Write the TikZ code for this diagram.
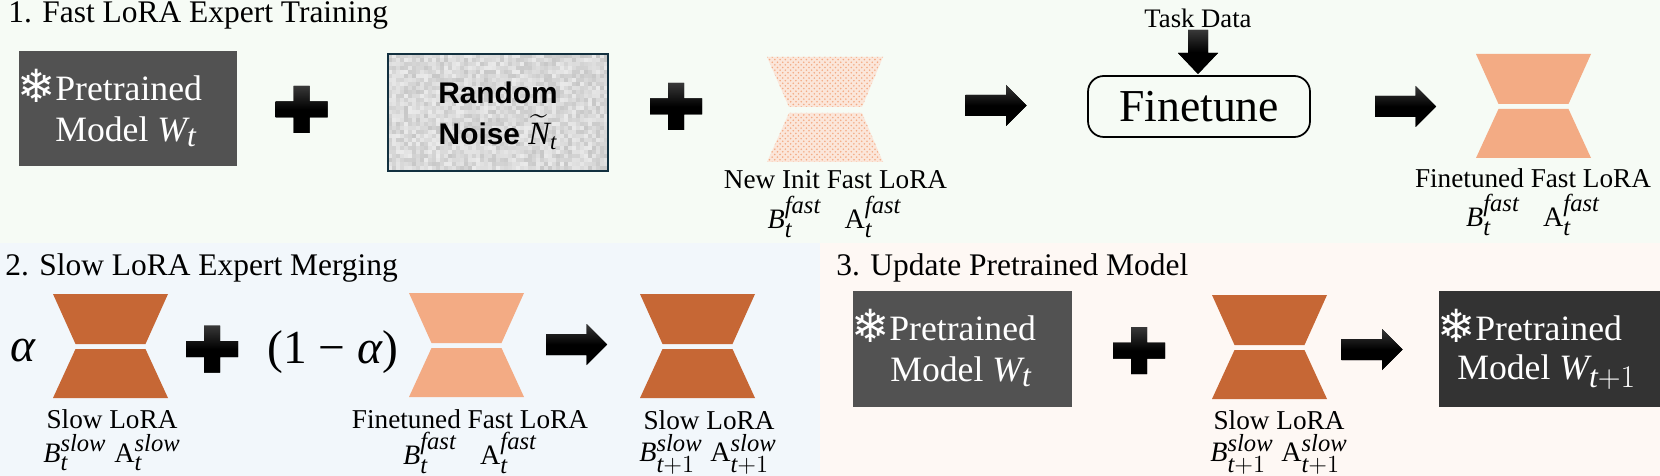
\documentclass[tikz,border=0pt]{standalone}
\usepackage{fix-cm}
\usepackage{amsmath}
\usepackage{fontspec}
\setmainfont{Liberation Serif}
\newfontfamily\arialfont{Liberation Sans}
\newfontfamily\flakefont{DejaVu Sans}
\usetikzlibrary{patterns,positioning}
\DeclareMathSizes{16}{16}{14}{11}
\DeclareMathSizes{20.3}{20.3}{18}{14}
\definecolor{bgone}{HTML}{F6FBF5}
\definecolor{bgtwo}{HTML}{F2F7FB}
\definecolor{bgthree}{HTML}{FEF8F4}
\definecolor{fastc}{HTML}{F3AB84}
\definecolor{slowc}{HTML}{C66735}
\definecolor{noiseline}{HTML}{12303F}
\tikzset{
  title/.style={anchor=west,inner sep=0pt,font=\fontsize{17.9}{22}\selectfont},
  lbl/.style={inner sep=0pt,font=\fontsize{15.5}{18}\selectfont},
  formula/.style={inner sep=0pt,font=\fontsize{16}{18}\selectfont},
  pretext/.style={anchor=west,inner sep=0pt,text=white,font=\fontsize{20.3}{25}\selectfont},
  flake/.style={inner sep=0pt,text=white,font=\flakefont\fontsize{26}{27}\selectfont},
  noisetext/.style={inner sep=0pt,font=\arialfont\bfseries\fontsize{17}{20}\selectfont},
  tokenfill/.style={top color=black!78,bottom color=black,middle color=black},
}
% plus sign, centre given
\newcommand{\plusmark}[2]{
  \fill[tokenfill,shift={(#1,#2)}] (-8,-23.5) -- (8,-23.5) -- (8,-8) -- (26,-8) -- (26,8) -- (8,8)
    -- (8,23.5) -- (-8,23.5) -- (-8,8) -- (-26,8) -- (-26,-8) -- (-8,-8) -- cycle;
}
% block arrow to the right, centre given
\newcommand{\arrowmark}[2]{
  \fill[tokenfill,shift={(#1,#2)}] (-30.5,-10.5) -- (10,-10.5) -- (10,-20.5) -- (30.5,0) -- (10,20.5)
    -- (10,10.5) -- (-30.5,10.5) -- cycle;
}
% hourglass, centre x and top y, fill options
\newcommand{\hourglass}[3]{
  \fill[#3] (#1-57.5,#2) -- (#1+57.5,#2) -- (#1+35,#2+50) -- (#1-35,#2+50) -- cycle;
  \fill[#3] (#1-35,#2+55) -- (#1+35,#2+55) -- (#1+57.5,#2+104) -- (#1-57.5,#2+104) -- cycle;
}
% B and A with subscript, superscript and the gap between them
\newcommand{\lrsym}[3]{$\mathit{B}_{#1}^{\mathit{#2}}#3\mathrm{A}_{#1}^{\mathit{#2}}$}
\begin{document}
\begin{tikzpicture}[x=0.02cm,y=-0.02cm]
  \useasboundingbox (0,0) rectangle (1660,476);
  % Panels
  \fill[bgone] (0,0) rectangle (1660,243);
  \fill[bgtwo] (0,243) rectangle (820,476);
  \fill[bgthree] (820,243) rectangle (1660,476);
  \node[title] (titleone) at (8,15) {1. Fast LoRA Expert Training};
  \node[title] (titletwo) at (5,268) {2. Slow LoRA Expert Merging};
  \node[title] (titlethree) at (836,268) {3. Update Pretrained Model};

  % Fast LoRA row
  \fill[black!68] (19,51) rectangle (237,166);
  \node[flake] (flakeone) at (37,86) {❄};
  \node[pretext] (preone) at (55,88) {Pretrained};
  \node[pretext] (modelone) at (55,132) {Model $\mathit{W}_{\mathit{t}}$};
  \plusmark{301.5}{109.5}
  \pgfmathsetseed{11}
  \foreach \i in {0,...,54} \foreach \j in {0,...,28} {
    \pgfmathsetmacro{\g}{8+rnd*14}
    \fill[black!\g] (388+4*\i,54+4*\j) rectangle ++(4,4);
  }
  \draw[noiseline,line width=1.2pt] (388,54) rectangle (608,171);
  \node[noisetext] (random) at (498,93) {Random};
  \node[noisetext] (noise) at (498,132) {Noise {\fontsize{18.5}{20}\selectfont$\widetilde{\mathit{N}}_{\mathit{t}}$}};
  \plusmark{676}{106.5}
  \fill[fastc!30] (767,57) -- (883,57) -- (862,107) -- (789,107) -- cycle;
  \fill[fastc!30] (789,113) -- (862,113) -- (883,162) -- (767,162) -- cycle;
  \fill[pattern=crosshatch dots,pattern color=fastc] (767,57) -- (883,57) -- (862,107) -- (789,107) -- cycle;
  \fill[pattern=crosshatch dots,pattern color=fastc] (789,113) -- (862,113) -- (883,162) -- (767,162) -- cycle;
  \node[lbl] (newinit) at (835.5,180) {New Init Fast LoRA};
  \node[formula] (newsym) at (834.5,217) {\lrsym{\mathit{t}}{fast}{\;\;\;}};
  \arrowmark{996}{105.5}
  \node[draw,line width=1pt,rounded corners=9pt,minimum width=222*0.02cm,minimum height=61*0.02cm,
    font=\fontsize{26}{30}\selectfont] (finetune) at (1199,106.5) {Finetune};
  \node[inner sep=0pt,font=\fontsize{15.2}{18}\selectfont] (task) at (1198,18) {Task Data};
  \fill[tokenfill] (1188,30) -- (1208,30) -- (1208,53) -- (1218,53) -- (1198,74) -- (1178,53) -- (1188,53) -- cycle;
  \arrowmark{1405.5}{106.5}
  \hourglass{1533.5}{54}{fastc}
  \node[lbl] (fineone) at (1533,178) {Finetuned Fast LoRA};
  \node[formula] (finesymone) at (1533,215) {\lrsym{\mathit{t}}{fast}{\;\;\;}};

  % Slow LoRA row
  \node[inner sep=0pt,font=\fontsize{27}{30}\selectfont] (alpha) at (23,351) {\textit{α}};
  \hourglass{110.5}{294}{slowc}
  \node[lbl] (slowone) at (112,419) {Slow LoRA};
  \node[formula] (slowsymone) at (112,453) {\lrsym{\mathit{t}}{slow}{\;}};
  \plusmark{212}{349}
  \node[inner sep=0pt,font=\fontsize{27}{30}\selectfont] (oneminus) at (333,352) {(1 − \textit{α})};
  \hourglass{466.5}{293}{fastc}
  \node[lbl] (finetwo) at (470,419) {Finetuned Fast LoRA};
  \node[formula] (finesymtwo) at (470,453) {\lrsym{\mathit{t}}{fast}{\;\;\;}};
  \arrowmark{576.5}{344.5}
  \hourglass{697.5}{294}{slowc}
  \node[lbl] (slowtwo) at (709,420) {Slow LoRA};
  \node[formula] (slowsymtwo) at (708,454) {\lrsym{\mathit{t}+1}{slow}{\;}};

  % Update row
  \fill[black!68] (853,291) rectangle (1072,407);
  \node[flake] (flaketwo) at (871,326) {❄};
  \node[pretext] (pretwo) at (889,328) {Pretrained};
  \node[pretext] (modeltwo) at (890,372) {Model $\mathit{W}_{\mathit{t}}$};
  \plusmark{1139}{350.5}
  \hourglass{1269.5}{295}{slowc}
  \node[lbl] (slowthree) at (1279,420) {Slow LoRA};
  \node[formula] (slowsymthree) at (1279,454) {\lrsym{\mathit{t}+1}{slow}{\;}};
  \arrowmark{1372}{349.5}
  \fill[black!80] (1439,291) rectangle (1660,407);
  \node[flake] (flakethree) at (1457,326) {❄};
  \node[pretext] (prethree) at (1475,328) {Pretrained};
  \node[pretext] (modelthree) at (1457,372) {Model $\mathit{W}_{\mathit{t}+1}$};
\end{tikzpicture}
\end{document}
